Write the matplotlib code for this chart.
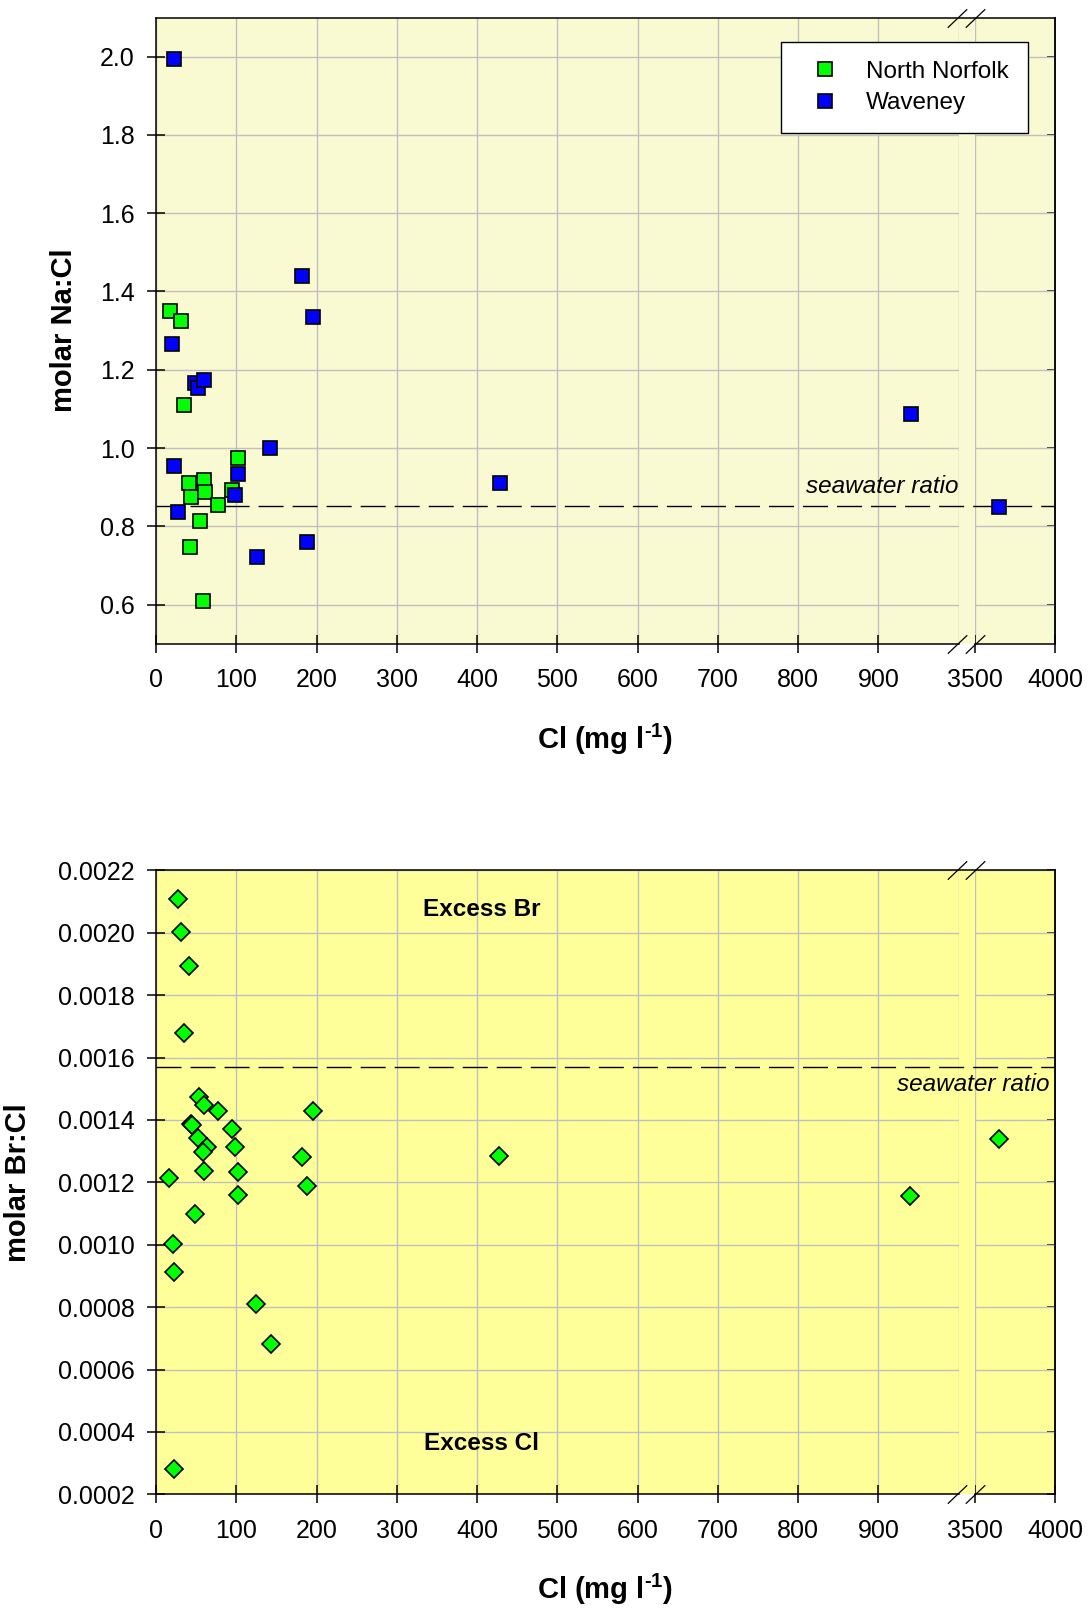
import matplotlib
matplotlib.use('Agg')
import matplotlib.pyplot as plt
import numpy as np
from matplotlib.patches import Rectangle

plt.rcParams['font.family'] = ['Liberation Sans', 'DejaVu Sans']
plt.rcParams['mathtext.fontset'] = 'custom'
plt.rcParams['mathtext.rm'] = 'Liberation Sans'
plt.rcParams['mathtext.bf'] = 'Liberation Sans:bold'

# molar Na:Cl by area
nn_cl = [17.5, 30.8, 34.9, 41.1, 44, 59.9, 61.5, 102.2, 94.8, 76.9, 54.9, 42.8, 58.2]
nn_na = [1.351, 1.324, 1.109, 0.911, 0.876, 0.917, 0.887, 0.974, 0.893, 0.854, 0.813, 0.746, 0.609]
wv_cl = [22, 20.4, 48.6, 52.8, 59.9, 22.8, 27, 101.8, 98.1, 125.5, 142, 182, 195.4, 188.7, 428, 940, 3652]
wv_na = [1.994, 1.265, 1.165, 1.154, 1.173, 0.953, 0.836, 0.933, 0.881, 0.722, 1.0, 1.44, 1.336, 0.761,
         0.91, 1.088, 0.85]

# molar Br:Cl, all samples
br_cl = [27.4, 30.8, 41.1, 34.9, 54, 60.3, 77.3, 195.4, 43.2, 44.5, 95.2, 52.8, 63.2, 58.2, 98.1, 182,
         59.9, 102.2, 16.6, 187.9, 102.2, 48.6, 20.8, 22.4, 125, 143, 22.4, 427, 939, 3652]
br_ratio = [0.002108, 0.002001, 0.001894, 0.001678, 0.001474, 0.001447, 0.001428, 0.001428, 0.001387,
            0.001383, 0.001371, 0.001341, 0.001313, 0.001298, 0.001315, 0.001282, 0.001237, 0.001232,
            0.001214, 0.001189, 0.001158, 0.0011, 0.001004, 0.000912, 0.000809, 0.000682, 0.000281,
            0.001286, 0.001157, 0.001338]

sea_na = 0.851
sea_br = 0.00157

x_ticks = [0, 100, 200, 300, 400, 500, 600, 700, 800, 900, 3500, 4000]


# broken x axis: 0-1000 linear, squeeze 1000-3500, 3500-4000 compressed
def fwd(x):
    x = np.asarray(x, dtype=float)
    return np.where(x <= 1000, x,
                    np.where(x <= 3500, 1000 + (x - 1000) * 0.008, 1020 + (x - 3500) * 0.2))


def inv(y):
    y = np.asarray(y, dtype=float)
    return np.where(y <= 1000, y,
                    np.where(y <= 1020, 1000 + (y - 1000) / 0.008, 3500 + (y - 1020) / 0.2))


def setup(ax, bg, yticks, yfmt, ylim):
    ax.set_facecolor(bg)
    ax.set_xscale('function', functions=(fwd, inv))
    ax.set_xlim(0, 4000)
    ax.set_ylim(*ylim)
    ax.set_xticks(x_ticks)
    ax.set_xticklabels([str(t) for t in x_ticks])
    ax.set_xticks([1000], minor=True)
    ax.set_yticks(yticks)
    ax.set_yticklabels([yfmt % v for v in yticks])
    ax.set_axisbelow(True)
    ax.grid(True, which='both', color='#c0c0c0', lw=1.0)
    ax.tick_params(axis='both', which='major', direction='inout', length=13, width=1.1,
                   labelsize=18, pad=9)
    ax.tick_params(axis='x', which='major', pad=11)
    ax.tick_params(axis='x', which='minor', length=0)
    for s in ax.spines.values():
        s.set_linewidth(1.1)

    # inward ticks on the right-hand side
    sec = ax.secondary_yaxis('right')
    sec.set_yticks(yticks)
    sec.tick_params(direction='in', length=6, width=1.1, labelright=False)
    sec.spines['right'].set_linewidth(1.1)

    # axis break
    t = ax.get_xaxis_transform()
    ax.add_patch(Rectangle((1005, 0), 2494, 1, transform=t, facecolor=bg,
                           edgecolor='none', zorder=0.8))
    ax.spines['bottom'].set_visible(False)
    ax.plot([0, 1005], [0, 0], color='k', lw=1.1, transform=t, clip_on=False, zorder=3)
    ax.plot([3500, 4000], [0, 0], color='k', lw=1.1, transform=t, clip_on=False, zorder=3)
    slash = np.array([(-1.0, -0.95), (1.0, 0.95)])
    for yy in (0, 1):
        ax.plot([998, 3500], [yy, yy], ls='none', marker=slash, ms=14, mfc='none', mec='k',
                mew=0.9, transform=t, clip_on=False, zorder=4)


fig = plt.figure(figsize=(10.88, 16.10), dpi=100)
ax1 = fig.add_axes([0.1434, 0.6002, 0.8263, 0.3889])
ax2 = fig.add_axes([0.1434, 0.0718, 0.8263, 0.3876])

# top panel: Na:Cl
setup(ax1, '#fafad2', [0.6, 0.8, 1.0, 1.2, 1.4, 1.6, 1.8, 2.0], '%.1f', (0.5, 2.1))
ax1.axhline(sea_na, color='k', lw=1.0, dashes=(18, 6.5), zorder=2)
ax1.plot(nn_cl, nn_na, ls='none', marker='s', ms=10, mfc='#00ff00', mec='k', mew=1.2,
         label='North Norfolk', zorder=5)
ax1.plot(wv_cl, wv_na, ls='none', marker='s', ms=10, mfc='#0000ff', mec='k', mew=1.2,
         label='Waveney', zorder=5)
ax1.annotate('seawater ratio', xy=(1000, sea_na), xytext=(0, 14), textcoords='offset points',
             ha='right', va='center', fontsize=17.5, style='italic')
leg = ax1.legend(loc='upper right', bbox_to_anchor=(0.970, 0.961), borderaxespad=0,
                 fontsize=17.5, frameon=True, fancybox=False, framealpha=1,
                 edgecolor='k', borderpad=0.78, labelspacing=0.38, handlelength=2.1,
                 handletextpad=0.65)
leg.get_frame().set_linewidth(1.0)

# bottom panel: Br:Cl
br_ticks = [0.0002, 0.0004, 0.0006, 0.0008, 0.0010, 0.0012, 0.0014, 0.0016, 0.0018, 0.0020, 0.0022]
setup(ax2, '#ffff99', br_ticks, '%.4f', (0.0002, 0.0022))
ax2.axhline(sea_br, color='k', lw=1.0, dashes=(18, 6.5), zorder=2)
ax2.plot(br_cl, br_ratio, ls='none', marker='D', ms=9.5, mfc='#00ff00', mec='k', mew=1.2, zorder=5)
ax2.annotate('seawater ratio', xy=(3967, sea_br), xytext=(0, -13), textcoords='offset points',
             ha='right', va='center', fontsize=17.5, style='italic')
ax2.text(406, 0.002075, 'Excess Br', ha='center', va='center', fontsize=17.5, fontweight='bold')
ax2.text(406, 0.000364, 'Excess Cl', ha='center', va='center', fontsize=17.5, fontweight='bold')

# axis titles
fig.text(63.6 / 1088, 1 - 330.5 / 1610, 'molar Na:Cl', rotation=90, ha='center', va='center',
         fontsize=21, fontweight='bold')
fig.text(18.5 / 1088, 1 - 1182.4 / 1610, 'molar Br:Cl', rotation=90, ha='center', va='center',
         fontsize=21, fontweight='bold')
xlab = 'Cl (mg l$^{\\mathbf{\u2010}\\mathbf{1}}$)'
fig.text(605.5 / 1088, 1 - 739 / 1610, xlab, ha='center', va='center', fontsize=21,
         fontweight='bold')
fig.text(605.5 / 1088, 1 - 1589 / 1610, xlab, ha='center', va='center', fontsize=21,
         fontweight='bold')

fig.savefig('out.png', dpi=100)
